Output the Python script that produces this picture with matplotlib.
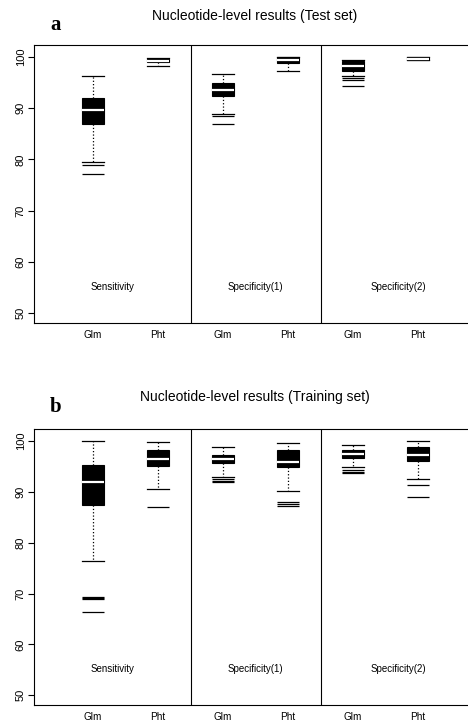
import matplotlib
matplotlib.use("Agg")
import matplotlib.pyplot as plt

plt.rcParams['font.family'] = ['Liberation Sans', 'DejaVu Sans']

methods = ['Glm', 'Pht', 'Glm', 'Pht', 'Glm', 'Pht']
groups = ['Sensitivity', 'Specificity(1)', 'Specificity(2)']
group_pos = [1.3, 3.5, 5.7]

# test set (panel a), order: Sens Glm, Sens Pht, Spec1 Glm, Spec1 Pht, Spec2 Glm, Spec2 Pht
test_whishi = [96.2, 99.8, 96.6, 100.0, 99.4, 100.0]
test_q3 = [92.0, 99.6, 94.9, 99.9, 99.2, 99.9]
test_med = [89.7, 99.2, 93.5, 99.3, 98.2, 99.6]
test_q1 = [86.8, 98.9, 92.4, 98.8, 97.3, 99.4]
test_whislo = [79.4, 98.3, 88.8, 97.2, 96.3, 99.3]
test_fliers = [[79.0, 77.1], [], [88.5, 86.9], [], [95.8, 95.5, 94.4], []]

# training set (panel b)
train_whishi = [100.0, 99.8, 98.8, 99.7, 99.2, 100.0]
train_q3 = [95.2, 98.2, 97.2, 98.2, 98.2, 98.8]
train_med = [92.0, 96.4, 96.4, 95.9, 97.4, 97.2]
train_q1 = [87.5, 95.0, 95.6, 94.8, 96.7, 96.1]
train_whislo = [76.4, 90.5, 93.0, 90.2, 94.8, 92.5]
train_fliers = [[69.4, 69.2, 69.0, 66.4], [87.1], [92.6, 92.2, 91.9],
                [88.0, 87.6, 87.2], [94.3, 93.9, 93.7], [91.4, 89.0]]

yticks = [50, 60, 70, 80, 90, 100]


def panel(ax, whishi, q3, med, q1, whislo, fliers):
    stats = []
    for i in range(len(methods)):
        stats.append(dict(med=med[i], q1=q1[i], q3=q3[i], whislo=whislo[i],
                          whishi=whishi[i], fliers=fliers[i]))
    pos = list(range(1, len(methods) + 1))
    ax.bxp(stats, positions=pos, widths=0.34, capwidths=0.34, patch_artist=True,
           boxprops=dict(facecolor='black', edgecolor='black', linewidth=0.8),
           medianprops=dict(color='white', linewidth=1.6),
           whiskerprops=dict(color='black', linestyle=':', linewidth=0.9),
           capprops=dict(color='black', linewidth=0.9),
           flierprops=dict(marker='_', markersize=16, markeredgecolor='black',
                           markeredgewidth=0.9))
    ax.axvline(2.5, color='black', linewidth=0.8)
    ax.axvline(4.5, color='black', linewidth=0.8)
    for g, x in zip(groups, group_pos):
        ax.text(x, 55.1, g, ha='center', va='center', fontsize=7)
    ax.set_xlim(0.09, 6.77)
    ax.set_ylim(48.1, 102.3)
    ax.set_xticks(pos)
    ax.set_xticklabels(methods, fontsize=7.2)
    ax.tick_params(axis='x', length=0, pad=5)
    ax.set_yticks(yticks)
    ax.set_yticklabels([str(t) for t in yticks], rotation=90, va='center', fontsize=8)
    ax.tick_params(axis='y', length=4, width=0.8, pad=2)
    ax.spines['right'].set_visible(False)
    for s in ['left', 'top', 'bottom']:
        ax.spines[s].set_linewidth(0.8)


fig = plt.figure(figsize=(4.68, 7.21), dpi=100)
ax1 = fig.add_axes([0.0726, 0.552, 0.9274, 0.3856])
ax2 = fig.add_axes([0.0726, 0.0222, 0.9274, 0.3824])

panel(ax1, test_whishi, test_q3, test_med, test_q1, test_whislo, test_fliers)
panel(ax2, train_whishi, train_q3, train_med, train_q1, train_whislo, train_fliers)

fig.text(255 / 468, 1 - 16 / 721, 'Nucleotide-level results (Test set)',
         ha='center', va='center', fontsize=10)
fig.text(255 / 468, 1 - 397 / 721, 'Nucleotide-level results (Training set)',
         ha='center', va='center', fontsize=10)
fig.text(56 / 468, 1 - 25 / 721, 'a', ha='center', va='center', fontsize=15,
         fontweight='bold', family='Liberation Serif')
fig.text(56 / 468, 1 - 407 / 721, 'b', ha='center', va='center', fontsize=15,
         fontweight='bold', family='Liberation Serif')

fig.savefig('out.png', dpi=100)
